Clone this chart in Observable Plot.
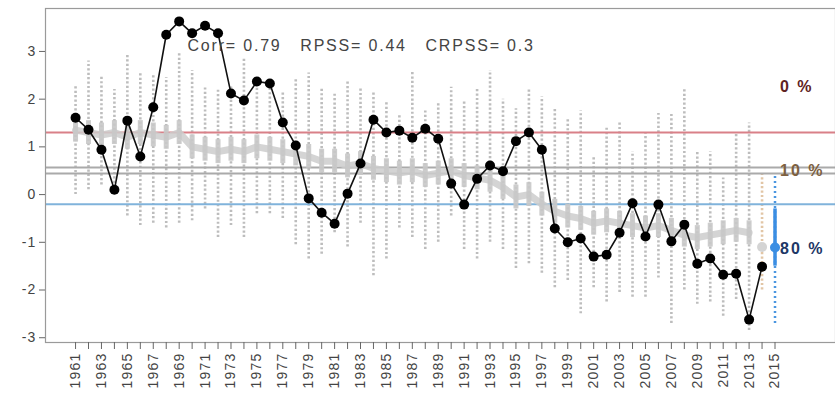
<!DOCTYPE html>
<html>
<head>
<meta charset="utf-8">
<script src="https://cdn.jsdelivr.net/npm/d3@7"></script>
<script src="https://cdn.jsdelivr.net/npm/@observablehq/plot@0.6"></script>
<style>
  html, body { margin: 0; padding: 0; background: #fff; overflow: hidden; }
  #chart svg { display: block; }
  #chart text { white-space: pre; }
</style>
</head>
<body>
<div id="chart"></div>
<script>
// ---------- data ----------
const years = d3.range(1961, 2015); // 1961..2014
const tickYears = d3.range(1961, 2016); // ticks 1961..2015

const observed = [1.61,1.36,0.94,0.10,1.55,0.80,1.83,3.35,3.63,3.38,
  3.54,3.38,2.12,1.97,2.37,2.33,1.51,1.03,-0.08,-0.38,
  -0.61,0.02,0.65,1.57,1.30,1.34,1.19,1.38,1.17,0.23,
  -0.21,0.33,0.61,0.49,1.12,1.30,0.94,-0.71,-1.00,-0.92,
  -1.30,-1.26,-0.80,-0.18,-0.88,-0.21,-0.98,-0.63,-1.45,-1.34,
  -1.68,-1.66,-2.62,-1.51];

const ensMax = [2.3,2.8,2.5,2.2,2.95,2.55,2.5,2.45,2.95,2.6,
  2.25,2.2,2.3,2.85,2.4,2.4,2.15,2.45,2.55,2.25,
  2.15,2.4,2.25,2.15,1.95,1.7,2.6,1.75,1.95,2.25,
  1.95,2.2,2.6,2.0,1.8,2.2,2.05,1.8,1.6,1.75,
  0.8,1.4,1.5,0.9,1.3,1.7,1.7,2.2,0.9,0.9,
  0.35,1.3,1.5,0.45];

const ensMin = [0.0,0.1,0.2,0.05,-0.45,-0.65,-0.6,-0.7,-0.6,-0.55,
  -0.3,-0.9,-0.65,-0.9,-0.4,-0.4,-0.5,-1.05,-1.35,-1.25,
  -0.8,-1.1,-0.6,-1.7,-1.35,-0.7,-0.9,-1.15,-1.0,-0.45,
  -1.15,-1.35,-1.0,-1.15,-1.55,-1.45,-1.65,-1.95,-1.8,-2.5,
  -1.95,-2.25,-2.05,-2.15,-2.15,-1.75,-2.7,-2.0,-2.3,-2.25,
  -2.55,-2.2,-2.85,-2.0];

const ensMean = [1.35,1.3,1.25,1.3,1.2,1.3,1.25,1.2,1.3,1.0,
  0.95,0.9,0.95,0.9,1.0,0.95,0.9,0.85,0.8,0.7,
  0.7,0.6,0.65,0.55,0.5,0.45,0.5,0.4,0.45,0.5,
  0.4,0.35,0.3,0.15,-0.05,0.0,-0.2,-0.35,-0.45,-0.5,
  -0.6,-0.55,-0.6,-0.65,-0.7,-0.65,-0.75,-0.85,-0.9,-0.85,
  -0.8,-0.75,-0.8,-1.1];

// forecast for 2015
const fcYear = [2015];
const fcRange = [0.44, -2.7];   // full spread
const fcInner = [-0.3, -1.5];   // thick part
const fcValue = [-1.11];

// threshold lines
const thrValues = [1.3, 0.57, 0.44, -0.2];
const thrColors = ["#d98088", "#aaaaaa", "#aaaaaa", "#80b3db"];

// probability labels
const probLabels = ["0\u00a0%", "10\u00a0%", "80\u00a0%"];
const probY = [2.25, 0.5, -1.13];
const probColors = ["#5e2222", "#7d6040", "#1d3766"];

const scoreText = ["Corr=\u00a00.79\u00a0\u00a0\u00a0RPSS=\u00a00.44\u00a0\u00a0\u00a0CRPSS=\u00a00.3"];

// ---------- tables ----------
const data = years.map((yr, i) => ({year: yr, obs: observed[i], lo: ensMin[i], hi: ensMax[i], mean: ensMean[i]}));
const hist = data.filter(d => d.year < 2014);
const lastYr = data.filter(d => d.year === 2014);
const thr = thrValues.map((v, i) => ({y: v, c: thrColors[i]}));
const probs = probLabels.map((t, i) => ({x: fcYear[0], y: probY[i], t, c: probColors[i]}));
const fc = fcYear.map((yr, i) => ({year: yr, top: fcRange[0], bot: fcRange[1], i1: fcInner[0], i2: fcInner[1], v: fcValue[i]}));

const font = "'Liberation Sans', Arial, Helvetica, sans-serif";

const chart = Plot.plot({
  width: 835,
  height: 398,
  marginLeft: 45,
  marginRight: 0,
  marginTop: 8,
  marginBottom: 56,
  style: {fontFamily: font, fontSize: "13px", color: "#444", background: "#fff"},
  x: {domain: [1958.68, 2019.67], label: null},
  y: {domain: [-3.1, 3.9], label: null},
  marks: [
    // ensemble spread columns (historic)
    Plot.ruleX(hist, {x: "year", y1: "lo", y2: "hi", stroke: "#bdbdbd", strokeWidth: 2.6, strokeDasharray: "2.2,2.2"}),
    Plot.ruleX(lastYr, {x: "year", y1: "lo", y2: "hi", stroke: "#e2c6a6", strokeWidth: 2.6, strokeDasharray: "2.2,2.2"}),
    // threshold lines
    Plot.ruleY(thr, {y: "y", stroke: "c", strokeWidth: 2}),
    // ensemble mean band
    Plot.line(hist, {x: "year", y: "mean", stroke: "#cccccc", strokeWidth: 7, strokeOpacity: 0.85}),
    Plot.ruleX(hist, {x: "year", y1: d => d.mean - 0.25, y2: d => d.mean + 0.25, stroke: "#c8c8c8", strokeWidth: 5, strokeOpacity: 0.9}),
    Plot.dot(lastYr, {x: "year", y: "mean", r: 5, fill: "#d4d4d4"}),
    // forecast 2015
    Plot.ruleX(fc, {x: "year", y1: "bot", y2: "top", stroke: "#4a96e0", strokeWidth: 2.5, strokeDasharray: "2,3"}),
    Plot.ruleX(fc, {x: "year", y1: "i2", y2: "i1", stroke: "#3b8ee3", strokeWidth: 3.5}),
    Plot.dot(fc, {x: "year", y: "v", r: 5, fill: "#3b8ee3"}),
    // observations
    Plot.line(data, {x: "year", y: "obs", stroke: "#111", strokeWidth: 1.6}),
    Plot.dot(data, {x: "year", y: "obs", r: 5, fill: "#000"}),
    // texts
    Plot.text(scoreText, {frameAnchor: "top-left", text: d => d, dx: 142, dy: 37, lineAnchor: "middle", fontSize: 16, fill: "#444", textAnchor: "start"}),
    Plot.text(probs, {x: "x", y: "y", text: "t", fill: "c", dx: 5, textAnchor: "start", fontSize: 16, fontWeight: "bold"}),
    // frame / axes
    Plot.frame({stroke: "#9a9a9a", strokeWidth: 1.2}),
    Plot.axisY({ticks: [-3, -2, -1, 0, 1, 2, 3], tickSize: 6, tickPadding: 3, fontSize: 14, stroke: "#666", fill: "#444", tickFormat: d => d < 0 ? "-" + Math.abs(d) : String(d)}),
    Plot.axisX({ticks: tickYears, tickSize: 7, tickPadding: 3, tickRotate: -90, fontSize: 14, stroke: "#666", fill: "#444", tickFormat: d => d % 2 === 1 ? String(d) : ""})
  ]
});
// widen glyph spacing to match the reference lettering
chart.querySelectorAll("text").forEach(t => {
  const s = t.textContent;
  if (/CRPSS/.test(s)) t.setAttribute("letter-spacing", "1.8");
  else if (/%/.test(s)) t.setAttribute("letter-spacing", "2");
  else if (/^-?\d+$/.test(s)) t.setAttribute("letter-spacing", "1.2");
});
document.getElementById("chart").appendChild(chart);
</script>
</body>
</html>
